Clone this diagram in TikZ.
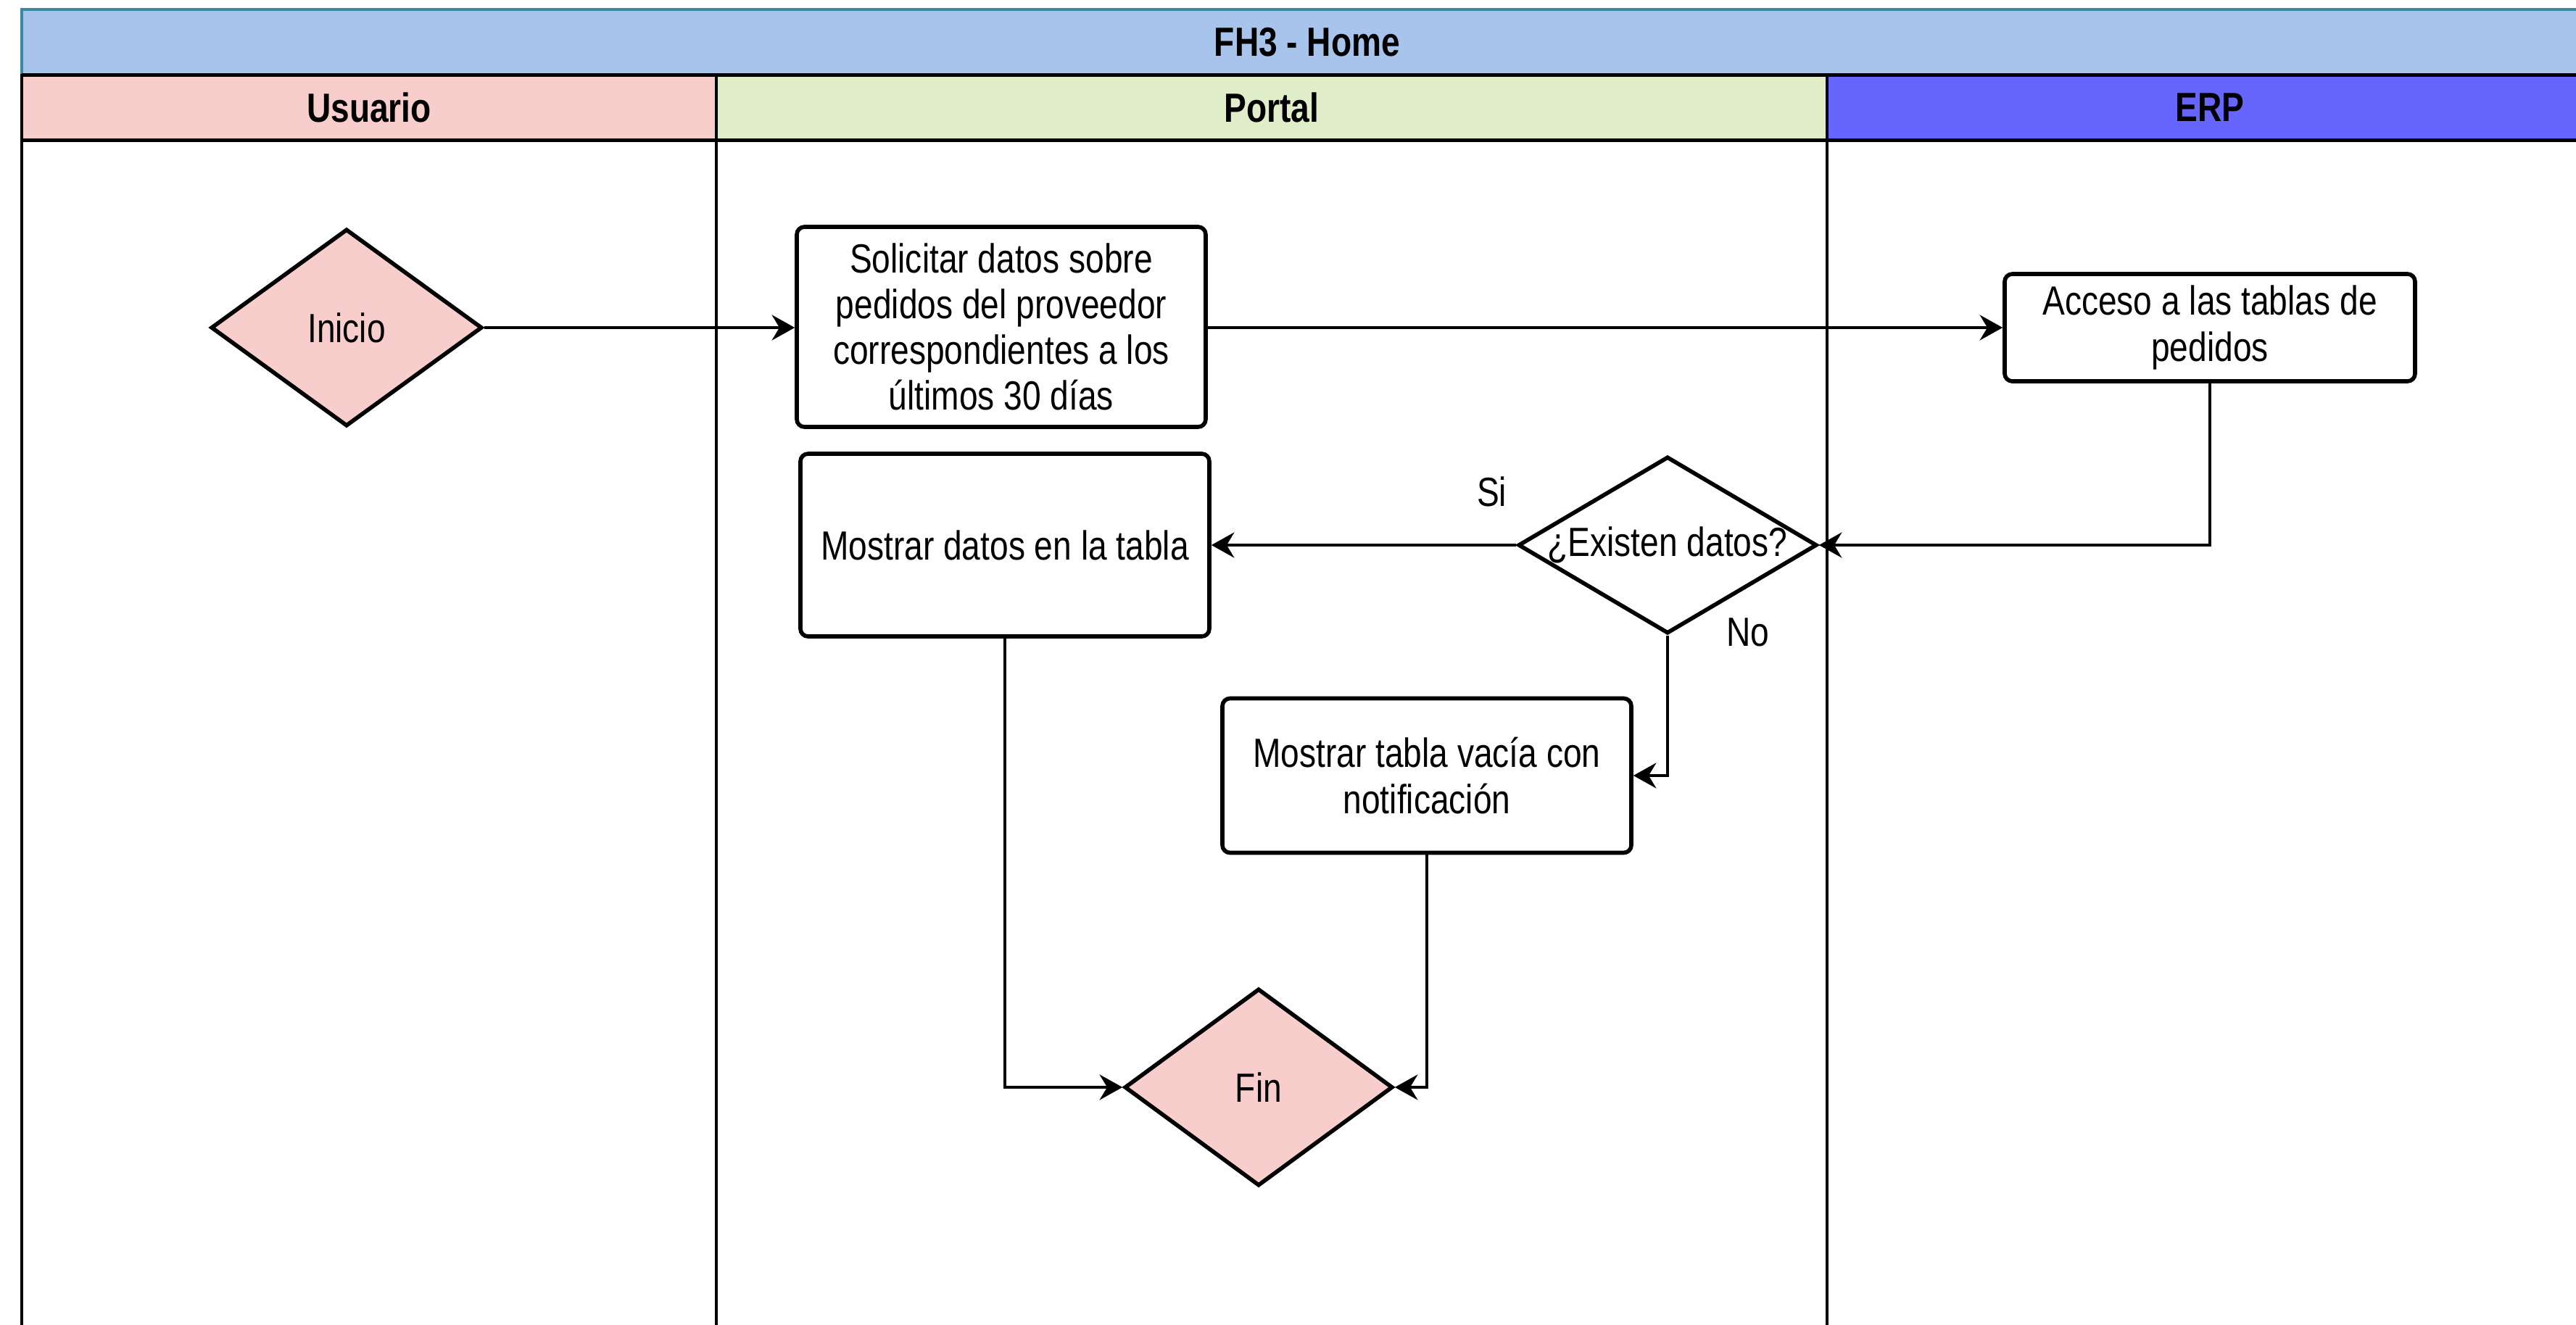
\documentclass[tikz,border=0pt]{standalone}
\usepackage{fontspec}
\setmainfont{Liberation Sans}[FakeStretch=0.82]
\usetikzlibrary{shapes.geometric,arrows.meta,positioning}
\definecolor{poolblue}{HTML}{A9C4EB}
\definecolor{poolline}{RGB}{57,137,160}
\definecolor{userpink}{HTML}{F8CECC}
\definecolor{portalgreen}{RGB}{224,237,201}
\definecolor{erpblue}{HTML}{6666FF}
\begin{document}
\begin{tikzpicture}[pool/.style={draw=poolline, line width=1.1pt, fill=poolblue, font=\bfseries\fontsize{16}{18}\selectfont, minimum width=35.46cm, minimum height=0.905cm, inner sep=0pt},
    lanehead/.style={draw, line width=1pt, font=\bfseries\fontsize{16}{18}\selectfont, minimum height=0.9cm, inner sep=0pt},
    proc/.style={draw, line width=1.6pt, rounded corners=3pt, fill=white, align=center, font=\fontsize{16}{18}\selectfont, minimum width=5.64cm, inner sep=2pt},
    dec/.style={draw, diamond, line width=1.6pt, inner xsep=-0.5cm, inner ysep=-0.2cm, font=\fontsize{16}{18}\selectfont},
    flow/.style={-{Stealth[length=9pt,width=10pt,inset=3pt]}, line width=0.9pt},
    lbl/.style={font=\fontsize{16}{18}\selectfont}]
    \useasboundingbox (0,0) rectangle (35.53,-18.27);
    \clip (0,0) rectangle (35.53,-18.27);
    \node[pool] (fh3) at (18.03,-0.58) {FH3 - Home};
    \node[lanehead,fill=userpink,minimum width=9.58cm] (usuario) at (5.09,-1.485) {Usuario};
    \node[lanehead,fill=portalgreen,minimum width=15.32cm] (portal) at (17.54,-1.485) {Portal};
    \node[lanehead,fill=erpblue,minimum width=10.56cm] (erp) at (30.48,-1.485) {ERP};
    \draw[line width=1pt] (0.30,-1.935) rectangle (9.88,-19) (9.88,-1.935) rectangle (25.20,-19) (25.20,-1.935) rectangle (35.76,-19);
    \draw[line width=1.45pt] (0.30,-1.035) -- (35.76,-1.035) (0.30,-1.935) -- (35.76,-1.935);
    \node[dec,fill=userpink,minimum width=3.74cm,minimum height=2.72cm] (inicio) at (4.78,-4.52) {Inicio};
    \node[proc,minimum height=2.76cm] (solicitar) at (13.81,-4.51) {Solicitar datos sobre\\pedidos del proveedor\\correspondientes a los\\últimos 30 días};
    \node[proc,minimum width=5.66cm,minimum height=1.48cm] (acceso) at (30.48,-4.52) {Acceso a las tablas de\\pedidos};
    \node[dec,fill=white,minimum width=4.12cm,minimum height=2.44cm] (existen) at (23.00,-7.52) {¿Existen datos?};
    \node[proc,minimum height=2.52cm] (datos) at (13.86,-7.52) {Mostrar datos en la tabla};
    \node[proc,minimum height=2.13cm] (vacia) at (19.68,-10.70) {Mostrar tabla vacía con\\notificación};
    \node[dec,fill=userpink,minimum width=3.70cm,minimum height=2.72cm] (fin) at (17.36,-15.00) {Fin};
    \draw[flow] (inicio.east) -- (solicitar.west |- inicio.east);
    \draw[flow] (solicitar.east |- acceso.west) -- (acceso.west);
    \draw[flow] (acceso.south) |- (existen.east);
    \draw[flow] (existen.west) -- node[lbl,pos=0.08,yshift=0.74cm]{Si} (datos.east);
    \draw[flow] (existen.south) |- node[lbl,at start,xshift=1.11cm,yshift=0.04cm]{No} (vacia.east);
    \draw[flow] (datos.south) |- (fin.west);
    \draw[flow] (vacia.south) |- (fin.east);
  \end{tikzpicture}
\end{document}
